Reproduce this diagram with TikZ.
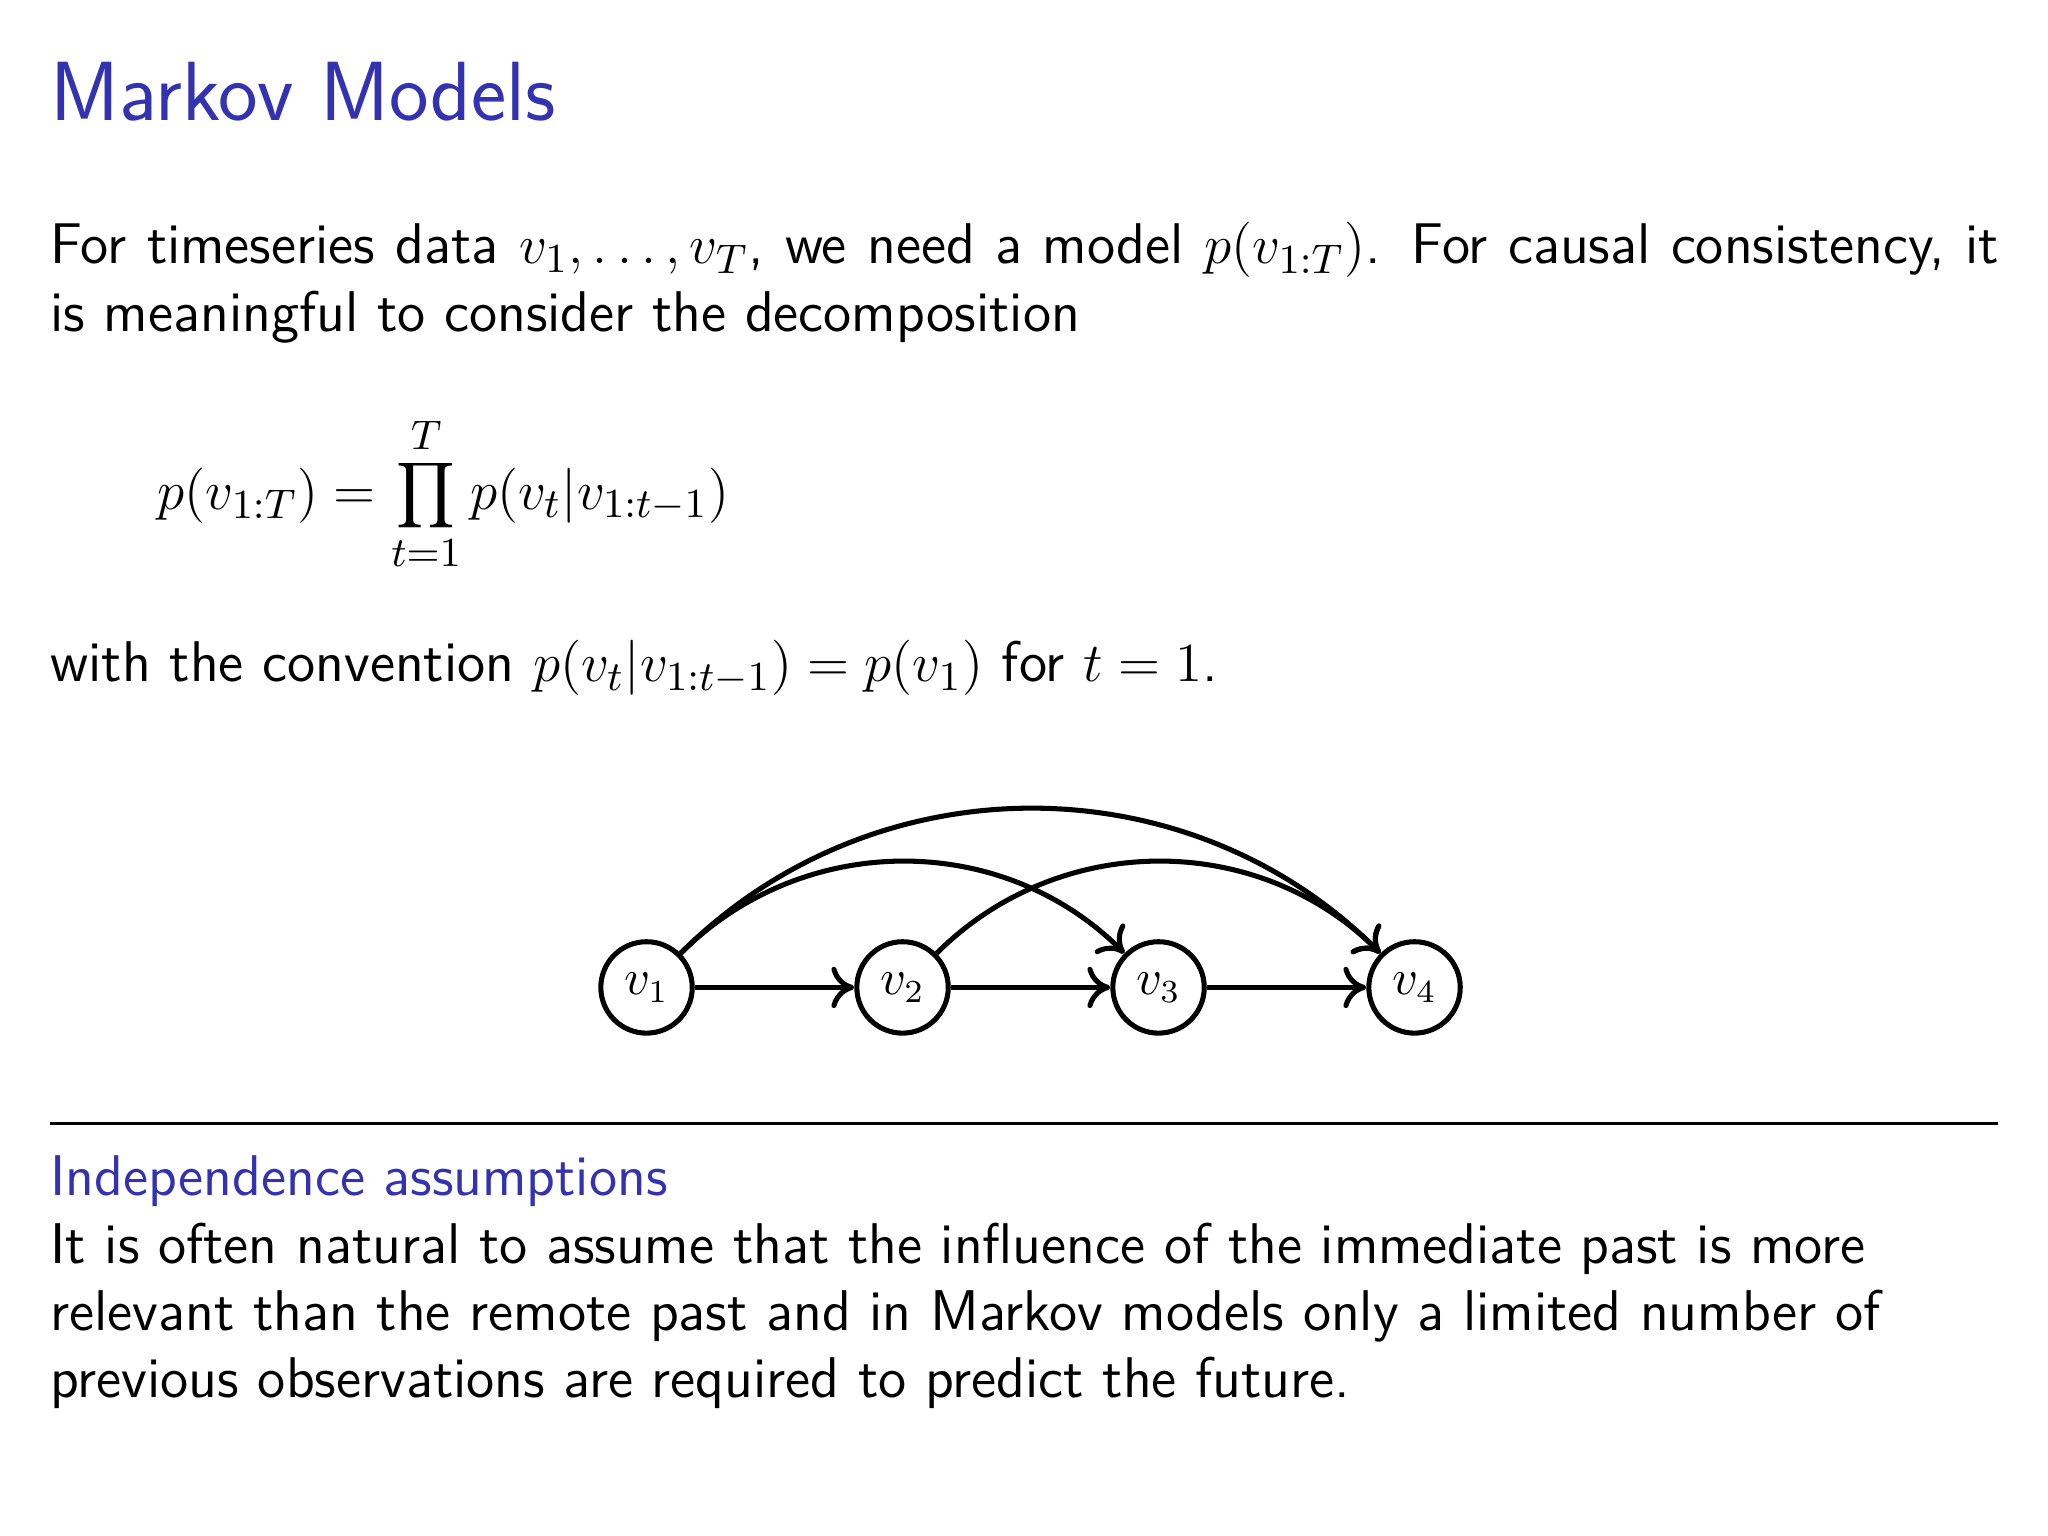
\documentclass[tikz,border=0pt]{standalone}
\usetikzlibrary{arrows.meta}
\definecolor{stru}{RGB}{51,51,178}
\tikzset{
  vnode/.style={circle,draw,line width=1.1pt,minimum size=0.7cm,inner sep=0pt,font=\fontsize{10.5}{12}\selectfont},
  edge/.style={line width=1.1pt,-{To[length=5pt,width=9pt,line width=1.1pt]}},
  txt/.style={anchor=base west,inner sep=0pt,font=\sffamily\fontsize{12.5}{15}\selectfont}
}
\begin{document}
\begin{tikzpicture}[x=1cm,y=-1cm]
\useasboundingbox (0,0) rectangle (15.68,11.76);
\node[anchor=base west,inner sep=0pt,text=stru,font=\sffamily\fontsize{18.3}{22}\selectfont] (title) at (0.38,0.92) {Markov Models};
\node[txt] (l1) at (0.38,2.02) {\makebox[14.92cm][s]{For timeseries data $v_1,\dots,v_T$, we need a model $p(v_{1:T})$. For causal consistency, it}};
\node[txt] (l2) at (0.38,2.54) {is meaningful to consider the decomposition};
\node[txt,font=\fontsize{13.2}{16}\selectfont] (eq) at (1.2,3.9) {$\displaystyle p(v_{1:T}) = \prod_{t=1}^{T} p(v_t|v_{1:t-1})$};
\node[txt] (l3) at (0.38,5.22) {with the convention $p(v_t|v_{1:t-1}) = p(v_1)$ for $t=1$.};
\node[vnode] (v1) at (4.95,7.56) {$v_1$};
\node[vnode] (v2) at (6.91,7.56) {$v_2$};
\node[vnode] (v3) at (8.87,7.56) {$v_3$};
\node[vnode] (v4) at (10.83,7.56) {$v_4$};
\draw[edge] (v1) -- (v2);
\draw[edge] (v2) -- (v3);
\draw[edge] (v3) -- (v4);
\draw[edge] (v1.45) to[out=45,in=135] (v3.135);
\draw[edge] (v2.45) to[out=45,in=135] (v4.135);
\draw[edge] (v1.45) to[out=45,in=135] (v4.135);
\coordinate (ra) at (0.38,8.6);
\coordinate (rb) at (15.3,8.6);
\draw[line width=0.6pt] (ra) -- (rb);
\node[txt,text=stru] (h) at (0.38,9.15) {Independence assumptions};
\node[txt] (b1) at (0.38,9.67) {It is often natural to assume that the influence of the immediate past is more};
\node[txt] (b2) at (0.38,10.19) {relevant than the remote past and in Markov models only a limited number of};
\node[txt] (b3) at (0.38,10.70) {previous observations are required to predict the future.};
\end{tikzpicture}
\end{document}
